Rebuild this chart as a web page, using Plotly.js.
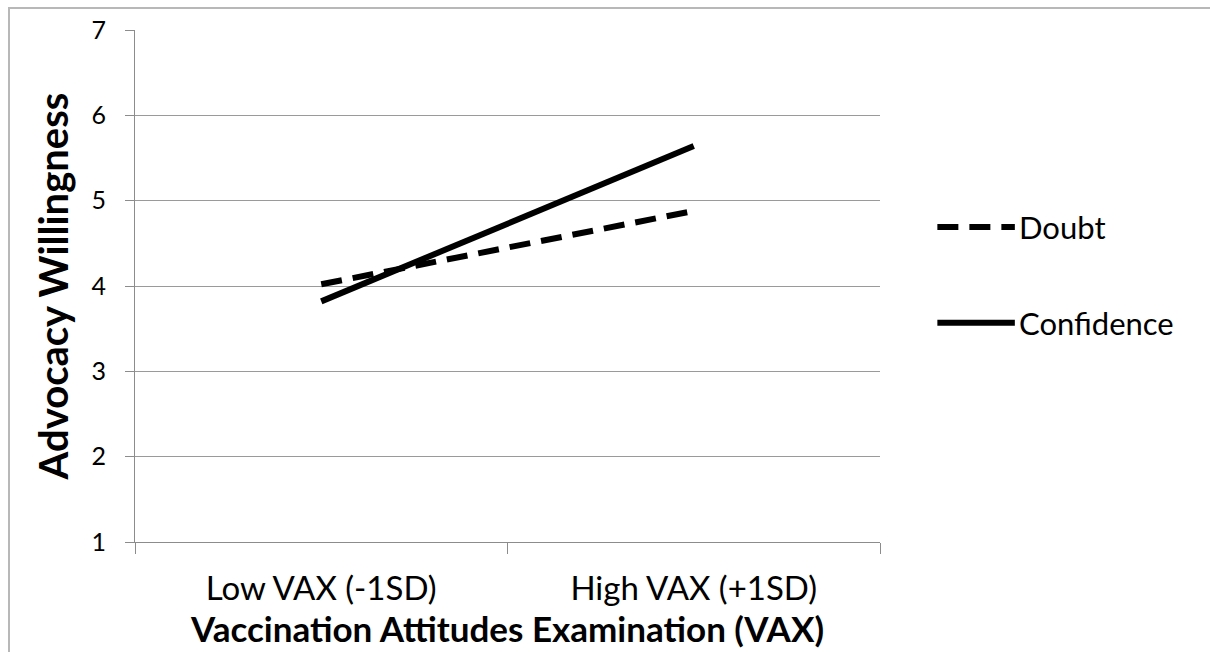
<!DOCTYPE html>
<html>
<head>
<meta charset="utf-8">
<script src="https://cdn.plot.ly/plotly-3.0.1.min.js"></script>
<style>
  html, body { margin: 0; padding: 0; background: #fff; }
  #wrap { position: relative; width: 1210px; height: 652px; overflow: hidden; }
  #chart { position: absolute; left: 0; top: 0; width: 1210px; height: 652px; }
  #frame { position: absolute; left: 8px; top: 7px; width: 1220px; height: 700px;
           border-top: 2px solid #b8b8b8; border-left: 2px solid #b8b8b8; pointer-events: none; }
</style>
</head>
<body>
<div id="wrap">
  <div id="chart"></div>
  <div id="frame"></div>
</div>
<script>
const categories = ["Low VAX (-1SD)", "High VAX (+1SD)"];
const seriesNames = ["Doubt", "Confidence"];
const doubtValues = [4.02, 4.88];
const confidenceValues = [3.82, 5.64];
const yTickValues = [1, 2, 3, 4, 5, 6, 7];

const FONT = "Lato, 'Liberation Sans', sans-serif";

const traces = [
  {
    type: "scatter", mode: "lines", name: seriesNames[0],
    x: categories, y: doubtValues,
    line: { color: "#000", width: 6, dash: "21px,11px" },
    showlegend: false, hoverinfo: "skip"
  },
  {
    type: "scatter", mode: "lines", name: seriesNames[1],
    x: categories, y: confidenceValues,
    line: { color: "#000", width: 6 },
    showlegend: false, hoverinfo: "skip"
  }
];

// manual legend (sample lines + labels) in paper coordinates
const legendY = [0.615, 0.428];
const legendDash = ["21px,11px", "solid"];
const shapes = seriesNames.map((n, i) => ({
  type: "line", xref: "paper", yref: "paper",
  x0: 1.077, x1: 1.181, y0: legendY[i], y1: legendY[i],
  line: { color: "#000", width: 6, dash: legendDash[i] }
}));
const annotations = seriesNames.map((n, i) => ({
  xref: "paper", yref: "paper", x: 1.184, y: legendY[i],
  xanchor: "left", yanchor: "middle", showarrow: false,
  text: n, font: { family: FONT, size: 31, color: "#000" }
}));

const layout = {
  width: 1210, height: 652,
  margin: { l: 135, r: 330, t: 30, b: 110, pad: 0 },
  paper_bgcolor: "#fff", plot_bgcolor: "#fff",
  showlegend: false,
  font: { family: FONT, color: "#000" },
  xaxis: {
    type: "category",
    range: [-0.5, 1.5],
    tickson: "boundaries",
    ticks: "outside", ticklen: 11, tickwidth: 1, tickcolor: "#8c8c8c",
    showgrid: false, zeroline: false,
    showline: true, linecolor: "#8c8c8c", linewidth: 1,
    tickfont: { family: FONT, size: 33, color: "#000" },
    ticklabelstandoff: 17,
    title: { text: "<b>Vaccination Attitudes Examination (VAX)</b>",
             font: { family: FONT, size: 35, color: "#000" }, standoff: 3 },
    fixedrange: true
  },
  yaxis: {
    range: [1, 7],
    tickvals: yTickValues,
    ticks: "outside", ticklen: 9, tickwidth: 1, tickcolor: "#8c8c8c",
    showgrid: true, gridcolor: "#9a9a9a", gridwidth: 1,
    zeroline: false,
    showline: true, linecolor: "#8c8c8c", linewidth: 1,
    tickfont: { family: FONT, size: 25, color: "#000" },
    ticklabelstandoff: 14,
    title: { text: "<b>Advocacy Willingness</b>",
             font: { family: FONT, size: 40, color: "#000" }, standoff: 10 },
    fixedrange: true
  },
  shapes: shapes,
  annotations: annotations
};

Plotly.newPlot("chart", traces, layout, { displayModeBar: false, staticPlot: true });
</script>
</body>
</html>
